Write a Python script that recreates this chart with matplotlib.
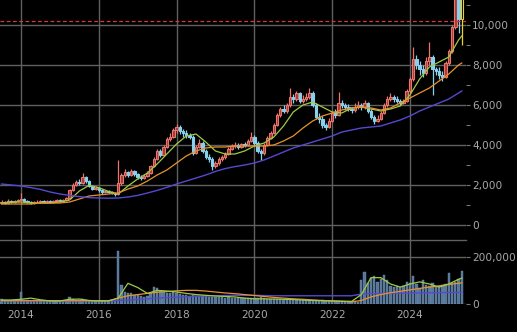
import numpy as np
import matplotlib
matplotlib.use("Agg")
import matplotlib.pyplot as plt
from matplotlib.ticker import FuncFormatter, MultipleLocator, FixedLocator

# monthly candles, Jul 2013 .. May 2025
opens = [
    1100, 1150, 1100, 1200, 1150, 1200,
    1250, 1300, 1200, 1150, 1100, 1150, 1150, 1200, 1150, 1200, 1150, 1200,
    1250, 1200, 1250, 1350, 1750, 2000, 2150, 2100, 2400, 2200, 1950, 1800,
    1850, 1750, 1650, 1700, 1650, 1600, 1550, 2100, 2500, 2650, 2500, 2700,
    2550, 2400, 2350, 2450, 2600, 2950, 3300, 3700, 3500, 3900, 4300, 4400,
    4750, 4900, 4700, 4600, 4500, 4400, 3600, 3900, 4100, 3700, 3400, 3300,
    2950, 3100, 3300, 3400, 3550, 3800, 3950, 4000, 3900, 4050, 4000, 4200,
    4400, 4100, 3700, 3600, 4000, 4350, 4600, 5000, 5500, 5800, 5700, 6000,
    6400, 6300, 6600, 6200, 6300, 6400, 6600, 6000, 5400, 5300, 5000, 4900,
    5200, 5600, 5500, 6100, 6000, 5900, 5800, 5750, 5900, 6000, 5900, 6100,
    5700, 5400, 5200, 5300, 5600, 6000, 6300, 6400, 6300, 6200, 6100, 6200,
    6700, 7300, 8300, 8000, 7800, 7600, 8200, 8400, 7800, 7700, 7500, 7400,
    8100, 8700, 9900, 11500, 10300,
]
highs = [
    1250, 1200, 1300, 1250, 1250, 1300,
    1600, 1350, 1250, 1200, 1200, 1250, 1250, 1250, 1250, 1250, 1250, 1300,
    1300, 1300, 1400, 1800, 2100, 2250, 2300, 2600, 2450, 2250, 2000, 1950,
    1900, 1800, 1750, 1750, 1700, 1650, 3250, 2600, 2800, 2700, 2800, 2750,
    2600, 2500, 2550, 2700, 3000, 3400, 3800, 3800, 4000, 4400, 4600, 4850,
    5050, 5000, 4800, 4750, 4600, 4500, 4000, 4300, 4200, 3800, 3550, 3400,
    3200, 3400, 3500, 3650, 3900, 4050, 4150, 4100, 4100, 4150, 4300, 4650,
    4500, 4200, 3800, 4100, 4450, 4700, 5100, 5600, 5900, 6000, 6100, 6850,
    6550, 6700, 6650, 6500, 6600, 6850, 6700, 6100, 5600, 5450, 5100, 5350,
    5700, 5800, 6650, 6250, 6100, 6050, 5900, 6100, 6200, 6100, 6250, 6150,
    5800, 5500, 5500, 5700, 6100, 6450, 6600, 6500, 6450, 6300, 6300, 6800,
    7400, 8900, 8500, 8200, 8000, 8400, 9150, 8500, 7900, 7900, 7700, 8200,
    8800, 10000, 11900, 11800, 11800,
]
lows = [
    1050, 1050, 1050, 1100, 1100, 1150,
    1200, 1150, 1100, 1050, 1050, 1100, 1100, 1100, 1100, 1100, 1100, 1150,
    1150, 1150, 1200, 1300, 1700, 1950, 2000, 2050, 2100, 1900, 1750, 1750,
    1650, 1550, 1600, 1600, 1550, 1450, 1500, 2000, 2400, 2400, 2450, 2450,
    2300, 2250, 2300, 2400, 2550, 2900, 3250, 3400, 3450, 3850, 4200, 4350,
    4600, 4550, 4400, 4350, 4300, 3500, 3550, 3850, 3600, 3300, 3150, 2750,
    2850, 3000, 3200, 3300, 3500, 3750, 3850, 3800, 3850, 3900, 3950, 4150,
    4000, 3600, 3250, 3500, 3950, 4300, 4550, 4950, 5400, 5600, 5600, 5900,
    6100, 6200, 6100, 6100, 6200, 6300, 5900, 5300, 5100, 4850, 4750, 4850,
    5150, 5350, 5450, 5850, 5750, 5700, 5600, 5650, 5800, 5750, 5800, 5600,
    5300, 5050, 5150, 5250, 5550, 5900, 6200, 6150, 6100, 6000, 6050, 6150,
    6600, 7200, 7800, 7500, 7400, 7500, 8000, 6500, 7500, 7300, 7200, 7350,
    8000, 8600, 9800, 9600, 9000,
]
closes = [
    1150, 1100, 1200, 1150, 1200, 1250,
    1300, 1200, 1150, 1100, 1150, 1150, 1200, 1150, 1200, 1150, 1200, 1250,
    1200, 1250, 1350, 1750, 2000, 2150, 2100, 2400, 2200, 1950, 1800, 1850,
    1750, 1650, 1700, 1650, 1600, 1550, 2100, 2500, 2650, 2500, 2700, 2550,
    2400, 2350, 2450, 2600, 2950, 3300, 3700, 3500, 3900, 4300, 4400, 4750,
    4900, 4700, 4600, 4500, 4400, 3600, 3900, 4100, 3700, 3400, 3300, 2950,
    3100, 3300, 3400, 3550, 3800, 3950, 4000, 3900, 4050, 4000, 4200, 4400,
    4100, 3700, 3600, 4000, 4350, 4600, 5000, 5500, 5800, 5700, 6000, 6400,
    6300, 6600, 6200, 6300, 6400, 6600, 6000, 5400, 5300, 5000, 4900, 5200,
    5600, 5500, 6100, 6000, 5900, 5800, 5750, 5900, 6000, 5900, 6100, 5700,
    5400, 5200, 5300, 5600, 6000, 6300, 6400, 6300, 6200, 6100, 6200, 6700,
    7300, 8300, 8000, 7800, 7600, 8200, 8400, 7800, 7700, 7500, 7400, 8100,
    8700, 9900, 11500, 10300, 11400,
]
volumes = [
    20, 15, 14, 16, 15, 14,
    50, 18, 15, 14, 15, 13, 14, 12, 13, 14, 12, 13,
    13, 14, 15, 30, 22, 18, 16, 20, 15, 14, 13, 12,
    13, 12, 12, 11, 12, 13, 225, 81, 51, 47, 45, 40,
    38, 33, 30, 35, 45, 72, 68, 55, 50, 47, 45, 50,
    45, 42, 40, 38, 36, 40, 35, 33, 32, 33, 30, 30,
    30, 28, 28, 27, 28, 27, 26, 25, 26, 25, 26, 27,
    24, 25, 30, 24, 22, 22, 23, 22, 20, 19, 20, 21,
    20, 18, 18, 17, 16, 18, 16, 15, 14, 15, 14, 13,
    13, 12, 14, 12, 11, 11, 10, 11, 10, 100, 135, 90,
    110, 120, 95, 105, 125, 100, 75, 72, 75, 72, 78, 95,
    90, 120, 85, 70, 100, 80, 75, 90, 72, 75, 80, 85,
    130, 90, 95, 105, 140,
]  # thousands of shares

# moving averages, sampled every third month
ma_months = list(range(0, 142, 3)) + [142]
ma_short = [1100, 1150, 1150, 1100, 1100, 1100, 1150, 1250, 1700, 1980,
            1870, 1680, 1550, 1950, 2300, 2600, 3050, 3550, 4050, 4450,
            4550, 4150, 3700, 3550, 3550, 3700, 3950, 4100, 4400, 4950,
            5650, 6000, 6150, 5900, 5650, 5600, 5850, 5900, 5800, 5700,
            5800, 5950, 6500, 7300, 7900, 8150, 8400, 9250, 9450]
ma_mid = [1050, 1050, 1050, 1050, 1100, 1100, 1100, 1150, 1300, 1450,
          1500, 1550, 1600, 1800, 1950, 2200, 2500, 2750, 3100, 3450,
          3700, 3850, 3900, 3900, 3950, 3950, 3950, 3950, 4000, 4200,
          4450, 4850, 5200, 5450, 5600, 5750, 5850, 5900, 5850, 5750,
          5850, 6100, 6350, 6600, 6850, 7200, 7550, 8000, 8100]
ma_long = [2050, 2000, 1950, 1870, 1780, 1650, 1550, 1480, 1420, 1370,
           1350, 1340, 1350, 1400, 1480, 1600, 1730, 1880, 2050, 2200,
           2350, 2500, 2680, 2820, 2920, 3000, 3100, 3250, 3450, 3650,
           3850, 4000, 4150, 4300, 4450, 4650, 4750, 4850, 4900, 4950,
           5100, 5250, 5450, 5700, 5900, 6100, 6300, 6600, 6700]
vol_ma_short = [17, 17, 20, 25, 18, 13, 13, 20, 21, 15,
                13, 13, 25, 88, 70, 45, 58, 55, 51, 45,
                40, 37, 34, 32, 30, 25, 22, 22, 21, 20,
                19, 17, 15, 14, 13, 12, 11, 40, 112, 112,
                85, 72, 85, 94, 85, 72, 85, 105, 110]
vol_ma_mid = [14, 14, 14, 14, 14, 14, 14, 14, 14, 14,
              14, 14, 25, 35, 40, 45, 50, 53, 56, 58,
              58, 55, 51, 47, 44, 40, 36, 32, 28, 25,
              22, 20, 17, 15, 13, 11, 9, 15, 30, 40,
              48, 54, 60, 66, 72, 77, 83, 88, 90]
vol_ma_long = [13, 13, 13, 13, 13, 13, 13, 13, 13, 13,
               13, 13, 15, 17, 20, 22, 25, 27, 29, 31,
               33, 34, 35, 36, 37, 37, 37, 36, 35, 35,
               35, 35, 35, 35, 35, 35, 35, 42, 45, 45,
               46, 46, 47, 47, 48, 48, 49, 49, 50]

alert_price = 10200
year_labels = [2014, 2016, 2018, 2020, 2022, 2024]

BG = "black"
GRID = "#606060"
TXT = "#a8a8a8"
UP = "#e8766c"
UP_FILL = "#a23a36"
DOWN = "#8ad0ec"
C_SHORT = "#9ccc45"
C_MID = "#e8922e"
C_LONG = "#5549d0"
VOL = "#56769a"

o = np.array(opens, float)
h = np.array(highs, float)
l = np.array(lows, float)
c = np.array(closes, float)
v = np.array(volumes, float) * 1000
x = np.arange(len(c))
year_pos = [12 * (yr - 2013) - 6 for yr in year_labels]

W, H = 517, 332
fig = plt.figure(figsize=(W / 100, H / 100), dpi=100, facecolor=BG)
ax = fig.add_axes([0, (H - 240) / H, 466 / W, 240 / H], facecolor=BG)
axv = fig.add_axes([0, (H - 304) / H, 466 / W, 64 / H], facecolor=BG, sharex=ax)

xlim = (-0.48, 143.3)

# price candles
up = c >= o
last = len(c) - 1
body_lo = np.minimum(o, c)
body_h = np.maximum(np.abs(c - o), 25)
for i in x:
    if i == last:
        col, face = "#e8d428", BG
    elif up[i]:
        col, face = UP, UP_FILL
    else:
        col, face = DOWN, DOWN
    ax.vlines(i, l[i], h[i], color=col, lw=0.9, zorder=3)
    ax.bar(i, body_h[i], bottom=body_lo[i], width=0.74, color=face,
           edgecolor=col, linewidth=0.8, zorder=4)

ax.plot(ma_months, ma_short, color=C_SHORT, lw=0.9, zorder=5)
ax.plot(ma_months, ma_mid, color=C_MID, lw=0.9, zorder=5)
ax.plot(ma_months, ma_long, color=C_LONG, lw=1.0, zorder=5)
ax.axhline(alert_price, color="#d83a3a", lw=0.9, ls=(0, (3, 2)), zorder=6)

ax.set_xlim(*xlim)
ax.set_ylim(-750, 11250)
ax.yaxis.set_major_locator(FixedLocator([0, 2000, 4000, 6000, 8000, 10000]))
ax.yaxis.set_minor_locator(MultipleLocator(1000))
ax.yaxis.set_major_formatter(FuncFormatter(lambda val, p: f"{int(val):,}"))
ax.yaxis.tick_right()
ax.tick_params(axis="y", which="both", direction="out", length=3, width=0.8,
               color="#777777", labelcolor=TXT, labelsize=7.6, pad=1.5)
ax.set_xticks(year_pos)
ax.tick_params(axis="x", length=0, labelbottom=False)
ax.grid(True, which="major", color=GRID, lw=1.0, zorder=0)
for s in ax.spines.values():
    s.set_visible(False)

# volume panel
axv.bar(x, v, width=0.72, color=VOL, edgecolor="#6f8fb0", linewidth=0.3, zorder=3)
axv.plot(ma_months, np.array(vol_ma_long) * 1000, color=C_LONG, lw=1.0, zorder=4)
axv.plot(ma_months, np.array(vol_ma_mid) * 1000, color=C_MID, lw=0.9, zorder=5)
axv.plot(ma_months, np.array(vol_ma_short) * 1000, color=C_SHORT, lw=0.9, zorder=6)
axv.set_xlim(*xlim)
axv.set_ylim(0, 272000)
axv.set_yticks([0, 200000])
axv.yaxis.set_major_formatter(FuncFormatter(lambda val, p: f"{int(val):,}"))
axv.yaxis.tick_right()
axv.tick_params(axis="y", direction="out", length=3, width=0.8, color="#777777",
                labelcolor=TXT, labelsize=7.6, pad=1.5)
axv.set_xticks(year_pos)
axv.set_xticklabels([str(yr) for yr in year_labels])
axv.tick_params(axis="x", length=0, labelcolor=TXT, labelsize=7.6, pad=4)
axv.grid(True, color=GRID, lw=1.0, zorder=0)
for name, s in axv.spines.items():
    s.set_visible(name == "top")
axv.spines["top"].set_color(GRID)
axv.spines["top"].set_linewidth(1.0)

fig.savefig("out.png", dpi=100, facecolor=BG)
